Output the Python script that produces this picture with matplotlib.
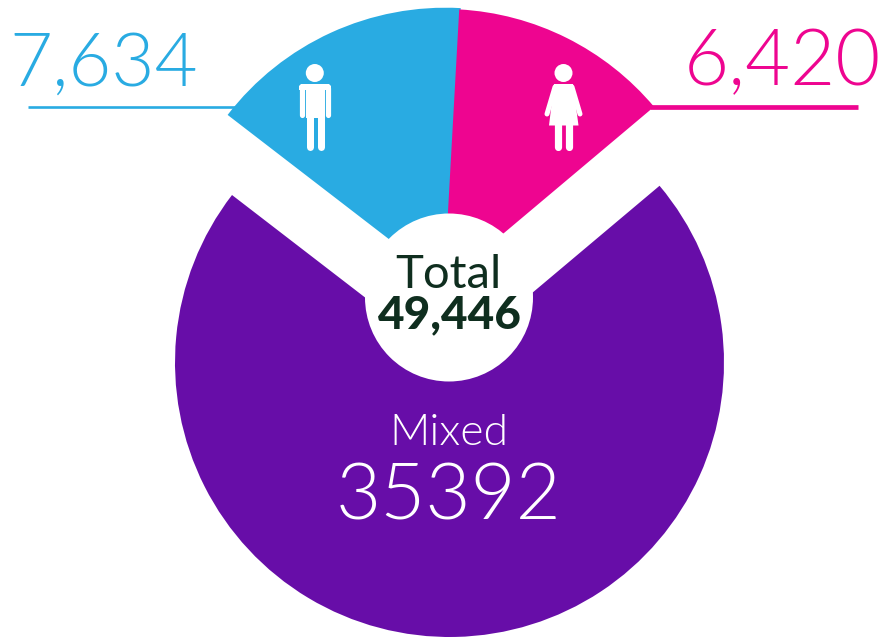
import matplotlib
matplotlib.use("Agg")
import matplotlib.pyplot as plt
from matplotlib import font_manager as fm
from matplotlib.patches import Wedge, Circle, Polygon

categories = ["Male", "Female", "Mixed"]
values = [7634, 6420, 35392]
colors = ["#29ABE2", "#EE0590", "#670DA8"]
dark = "#0F2E1F"

W, H = 883, 637

# "light" on its own picks Lato Hairline, so look the file up
light_files = [f.fname for f in fm.fontManager.ttflist if f.name == "Lato" and f.fname.endswith("Lato-Light.ttf")]
if light_files:
    light = fm.FontProperties(fname=light_files[0])
else:
    light = fm.FontProperties(family="Roboto", weight="light")


def py(y):
    # reference pixel rows run downwards
    return H - y


def label(x, y, s, color, size, **kw):
    if not kw:
        kw = {"fontproperties": light}
    t = ax.text(x, py(y), s, color=color, ha="center", va="baseline", zorder=5, **kw)
    t.set_fontsize(size)


fig = plt.figure(figsize=(W / 100, H / 100), dpi=100)
ax = fig.add_axes([0, 0, 1, 1])
ax.set_xlim(0, W)
ax.set_ylim(0, H)
ax.axis("off")

total = sum(values)
sweeps = [v / total * 360 for v in values]

# slices run clockwise from the left edge of the male slice
start = 142.4
male_end = start - sweeps[0]
female_end = male_end - sweeps[1]

ax.add_patch(Wedge((449.5, py(362.5)), 274.5, start, start + sweeps[2], color=colors[2], lw=0))
ax.add_patch(Wedge((445.5, py(282.7)), 275, male_end, start, color=colors[0], lw=0))
ax.add_patch(Wedge((444, py(283.5)), 274.5, female_end, male_end, color=colors[1], lw=0))
ax.add_patch(Circle((449, py(297.5)), 84, color="white", lw=0, zorder=3))

# leader lines
ax.plot([28, 236], [py(107), py(107)], color=colors[0], lw=1.9, solid_capstyle="butt")
ax.plot([650, 858], [py(106.7), py(106.7)], color=colors[1], lw=3.4, solid_capstyle="butt")

# man icon
ax.add_patch(Circle((314.8, py(73)), 9, color="white", lw=0, zorder=4))
ax.add_patch(Polygon([(299, py(86)), (301, py(84)), (329, py(84)), (331, py(86)), (331, py(90)), (299, py(90))],
                     color="white", lw=0, zorder=4))
ax.add_patch(Polygon([(306, py(86)), (324, py(86)), (324, py(118)), (306, py(118))], color="white", lw=0, zorder=4))
for x, y1, w in [(301.7, 115, 5.2), (327.9, 115, 5.2), (309.5, 147, 7), (320.5, 147, 7)]:
    ax.plot([x, x], [py(88), py(y1)], color="white", lw=w * 0.72, solid_capstyle="round", zorder=4)

# woman icon
ax.add_patch(Circle((563.5, py(73)), 9, color="white", lw=0, zorder=4))
ax.add_patch(Polygon([(554, py(84)), (573, py(84)), (578.5, py(125.5)), (549, py(125.5))],
                     color="white", lw=0, zorder=4))
for x0, x1, y0, y1, w in [(555, 547, 87, 114, 5), (572, 580, 87, 114, 5),
                          (557.7, 557.7, 124, 147, 7.2), (569.4, 569.4, 124, 147, 7.2)]:
    ax.plot([x0, x1], [py(y0), py(y1)], color="white", lw=w * 0.72, solid_capstyle="round", zorder=4)

# labels
label(103.5, 86, f"{values[0]:,}", colors[0], 53.5)
label(782, 85.5, f"{values[1]:,}", colors[1], 56)
label(448, 288, "Total", dark, 34, family="Lato", weight="normal")
label(449.5, 328, f"{total:,}", dark, 33, family="Lato", weight="black")
label(449, 445, categories[2], "white", 32)
label(449, 519, f"{values[2]}", "white", 56)

fig.savefig("out.png", dpi=100)
